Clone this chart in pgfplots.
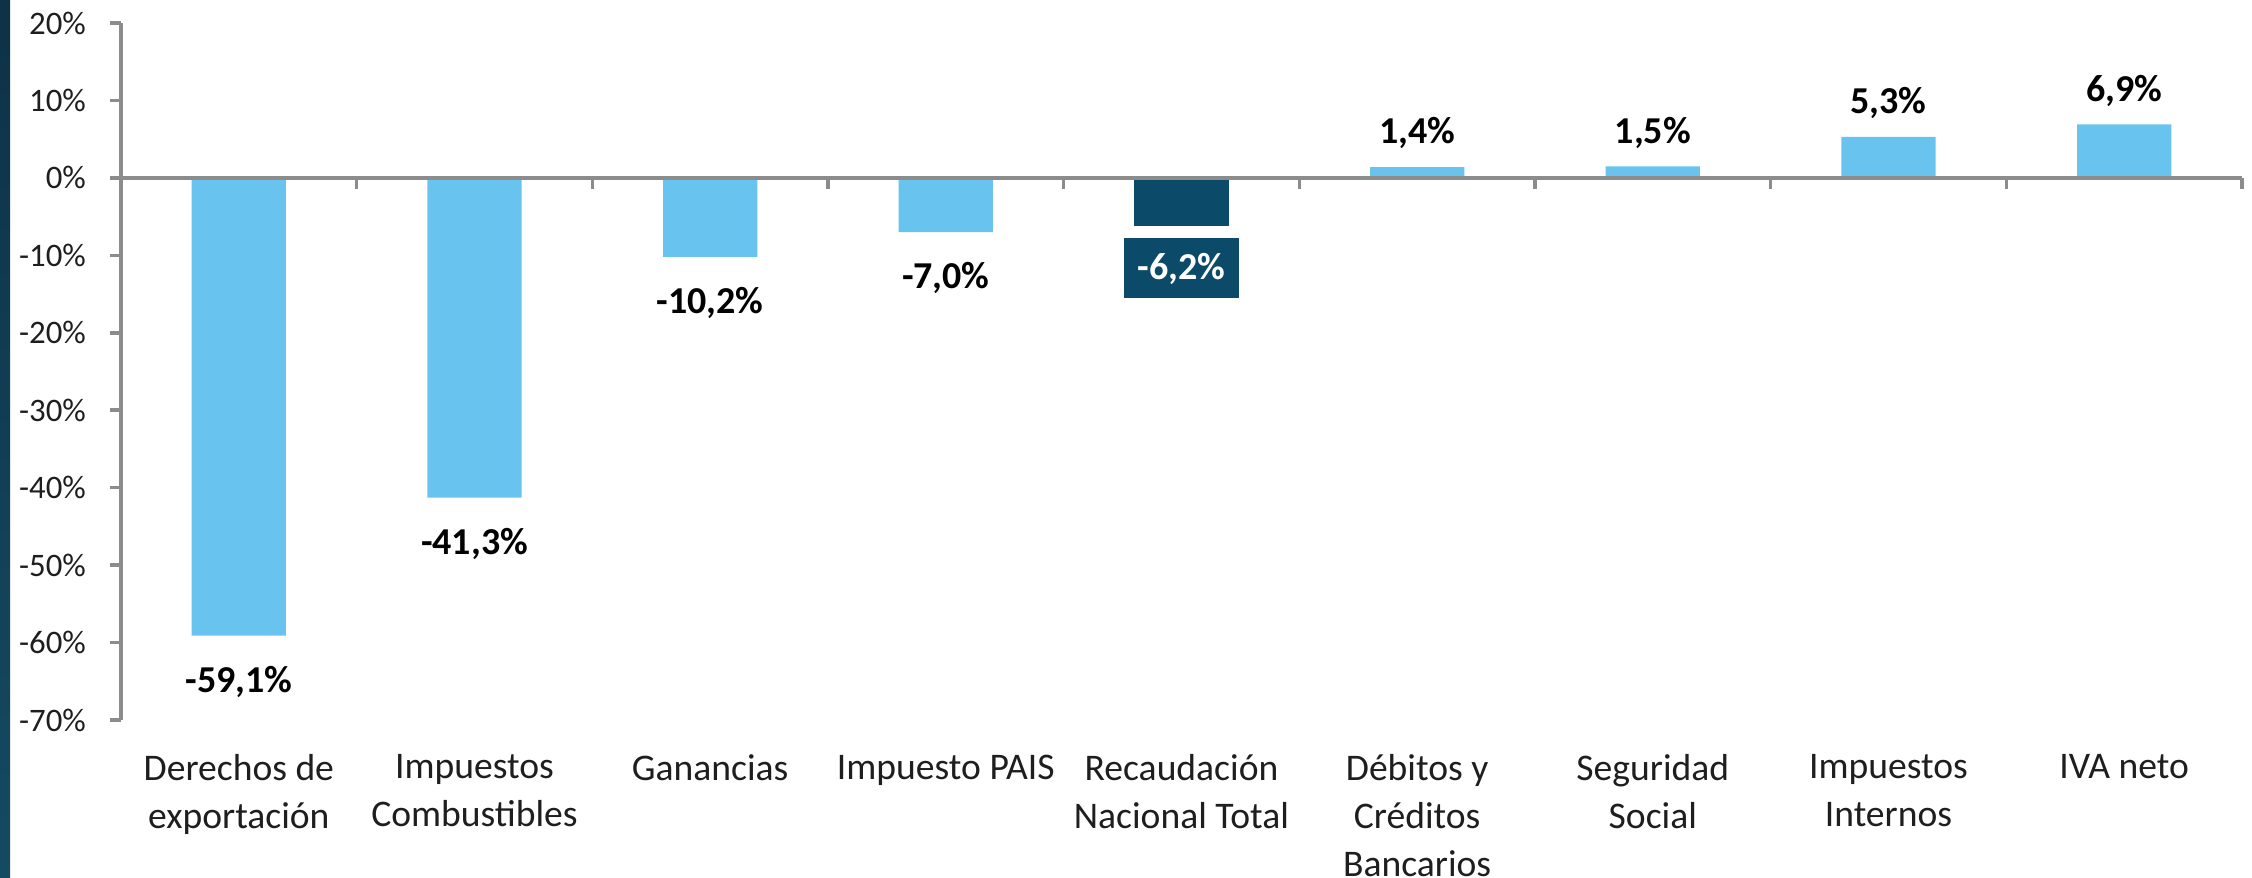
\documentclass[border=0pt]{standalone}
\usepackage{pgfplots}
\pgfplotsset{compat=1.18}
\usepackage{fontspec}
\setmainfont{Carlito}
\definecolor{barblue}{RGB}{104,195,238}
\definecolor{bardark}{RGB}{11,74,104}
\definecolor{axgray}{RGB}{140,140,140}
\definecolor{txt}{RGB}{30,30,30}
\definecolor{stripA}{RGB}{14,50,70}
\definecolor{stripB}{RGB}{21,74,99}
\pgfplotsset{
  lbl/.style={nodes near coords={\pgfmathprintnumber[fixed,fixed zerofill,precision=1,use comma,assume math mode=true]{\pgfplotspointmeta}\%},
    nodes near coords align={vertical}},
}
\begin{document}
\begin{tikzpicture}
\begin{axis}[
  scale only axis, width=530.25pt, height=174.25pt,
  at={(30.25pt,39.5pt)}, anchor=south west,
  xmin=-0.5, xmax=8.5, ymin=-70, ymax=20,
  axis x line*=bottom, axis y line*=left,
  x axis line style={draw=none},
  y axis line style={axgray, line width=0.9pt},
  xtick={0,...,8},
  xtick style={draw=none},
  xticklabels={{Derechos de\\exportación},{Impuestos\\Combustibles},{Ganancias},{Impuesto PAIS},{Recaudación\\Nacional Total},{Débitos y\\Créditos\\Bancarios},{Seguridad\\Social},{Impuestos\\Internos},{IVA neto}},
  xticklabel style={align=center, anchor=north, font=\fontsize{9.4}{12}\selectfont, text=txt, yshift=-2.4pt},
  ytick={-70,-60,...,20},
  ytick style={axgray, line width=0.9pt},
  tick align=outside, major tick length=2.75pt,
  /pgf/number format/assume math mode=true,
  yticklabel={\pgfmathprintnumber{\tick}\%},
  yticklabel style={font=\fontsize{8.2}{10}\selectfont, text=txt, xshift=-2.5pt},
  clip=false,
]
\addplot[ybar, bar width=0.4, bar shift=0pt, fill=barblue, draw=none, lbl,
  every node near coord/.append style={font=\bfseries\fontsize{9.5}{11}\selectfont, text=black, inner ysep=7.4pt, inner xsep=0pt, text depth=0pt}]
  coordinates {(0,-59.1) (1,-41.3) (2,-10.2) (3,-7.0)};
\addplot[ybar, bar width=0.4, bar shift=0pt, fill=barblue, draw=none, lbl,
  every node near coord/.append style={font=\bfseries\fontsize{9.5}{11}\selectfont, text=black, inner ysep=5.6pt, inner xsep=0pt, text depth=0pt}]
  coordinates {(5,1.4) (6,1.5) (7,5.3) (8,6.9)};
\addplot[ybar, bar width=0.4, bar shift=0pt, fill=bardark, draw=none, lbl,
  every node near coord/.append style={font=\bfseries\fontsize{9.5}{11}\selectfont, text=white, fill=bardark, inner ysep=4.5pt, inner xsep=3.4pt, text height=6pt, text depth=0pt, yshift=-2.75pt}]
  coordinates {(4,-6.2)};
\draw[axgray, line width=0.9pt] (axis cs:-0.5,0) -- (axis cs:8.5,0);
\pgfplotsinvokeforeach{0.5,1.5,2.5,3.5,4.5,5.5,6.5,7.5,8.5}{\draw[axgray, line width=0.9pt] (axis cs:#1,0) -- ([yshift=-2.75pt]axis cs:#1,0);}
\end{axis}
\fill[top color=stripA, bottom color=stripB] (0,0) rectangle (2.5pt,219.5pt);
\pgfresetboundingbox
\path[use as bounding box] (0,0) rectangle (563pt,219.5pt);
\end{tikzpicture}
\end{document}
